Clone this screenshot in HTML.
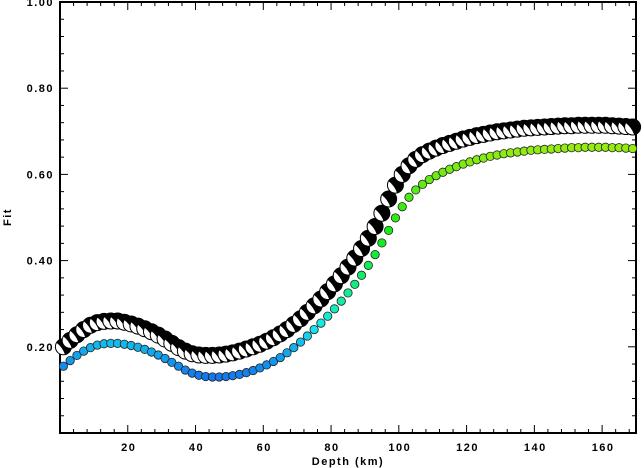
<!DOCTYPE html>
<html><head><meta charset="utf-8"><style>
body{margin:0;background:#fff}
svg{display:block;font-family:"Liberation Sans",sans-serif}
text{font-weight:bold;font-size:11px;letter-spacing:1.5px}
</style></head><body>
<svg id="c" width="644" height="468"></svg>
<script>
const depths=[];for(let d=1;d<=169;d+=2)depths.push(d);
const mechFit=[.200,.215,.228,.240,.250,.256,.259,.260,.260,.257,.253,.248,.242,.235,.227,.218,.208,.198,.190,.184,.181,.180,.180,.181,.183,.186,.190,.195,.200,.206,.213,.221,.230,.240,.252,.265,.280,.295,.311,.328,.346,.365,.385,.406,.428,.452,.479,.510,.543,.575,.600,.620,.635,.646,.654,.661,.667,.672,.677,.682,.686,.690,.693,.696,.699,.701,.703,.705,.707,.708,.709,.710,.711,.712,.713,.713,.714,.714,.714,.714,.714,.713,.712,.711,.710];
const dotFit=[.155,.168,.180,.190,.198,.204,.207,.208,.208,.206,.203,.199,.194,.188,.181,.173,.164,.155,.146,.139,.134,.131,.130,.130,.131,.133,.136,.140,.145,.151,.158,.166,.175,.186,.198,.211,.225,.240,.255,.271,.288,.306,.325,.345,.366,.389,.414,.441,.470,.499,.525,.547,.564,.577,.588,.597,.605,.612,.618,.624,.629,.634,.638,.642,.645,.648,.650,.652,.654,.656,.657,.658,.659,.660,.661,.662,.662,.663,.663,.663,.663,.662,.662,.661,.660];
const xTicks=[20,40,60,80,100,120,140,160];
const yTicks=[0.2,0.4,0.6,0.8,1.0];
const X0=60,X1=636,Y0=433,Y1=2;
const sx=d=>X0+(d/170)*(X1-X0);
const sy=v=>Y0-(v/1.0)*(Y0-Y1);
const svg=document.getElementById('c');const NS='http://www.w3.org/2000/svg';
function mk(t,a,p){const e=document.createElementNS(NS,t);for(const k in a)e.setAttribute(k,a[k]);(p||svg).appendChild(e);return e;}
const hueStops=[[0.13,212],[0.2,196],[0.23,186],[0.3,162],[0.45,122],[0.56,102],[0.66,84]];
function hue(v){if(v<=hueStops[0][0])return hueStops[0][1];for(let i=1;i<hueStops.length;i++){const a=hueStops[i-1],b=hueStops[i];if(v<=b[0])return a[1]+(v-a[0])/(b[0]-a[0])*(b[1]-a[1]);}return hueStops[hueStops.length-1][1];}
const gt=mk('g',{stroke:'#000','stroke-width':1});


for(let d=4;d<170;d+=4){const big=d%20===0,L=big?8:4;const x=sx(d);
mk('line',{x1:x,x2:x,y1:Y0,y2:Y0-L},gt);mk('line',{x1:x,x2:x,y1:Y1,y2:Y1+L},gt);}
for(let i=1;i<25;i++){const v=i*0.04;const big=i%5===0,L=big?8:4;const y=sy(v);
mk('line',{x1:X0,x2:X0+L,y1:y,y2:y},gt);mk('line',{x1:X1,x2:X1-L,y1:y,y2:y},gt);}
const fr=mk('rect',{x:X0,y:Y1,width:X1-X0,height:Y0-Y1,fill:'none',stroke:'#000','stroke-width':2});


xTicks.forEach(t=>{const e=mk('text',{x:sx(t)+1,y:Y0+18,'text-anchor':'middle'});e.textContent=t;

});
yTicks.forEach(t=>{const e=mk('text',{x:X0-6,y:sy(t)+4,'text-anchor':'end'});e.textContent=t.toFixed(2);

});
const xt=mk('text',{x:348,y:465,'text-anchor':'middle','font-size':'12'});xt.textContent='Depth (km)';


const yt=mk('text',{x:0,y:0,'text-anchor':'middle','font-size':'12',transform:'translate(11,217) rotate(-90)'});yt.textContent='Fit';


const gd=mk('g',{});


depths.forEach((d,i)=>{const v=dotFit[i];const h=hue(v);
const c=mk('circle',{cx:sx(d),cy:sy(v),r:4.2,fill:`hsl(${h},85%,50%)`,stroke:'#222','stroke-width':0.8},gd);

});
const gm=mk('g',{});


depths.forEach((d,i)=>{const x=sx(d),y=sy(mechFit[i]),r=8;
const g=mk('g',{transform:`translate(${x},${y})`},gm);


mk('circle',{r:r,fill:'#fff',stroke:'#000','stroke-width':1},g);
mk('path',{d:`M${-r*0.85},${-r*0.5} A${r},${r} 0 1 1 ${r*0.2},${r*0.97} Q${-r*0.1},${r*0.1} ${-r*0.85},${-r*0.5}Z`,fill:'#000'},g);
});
</script>
</body></html>
